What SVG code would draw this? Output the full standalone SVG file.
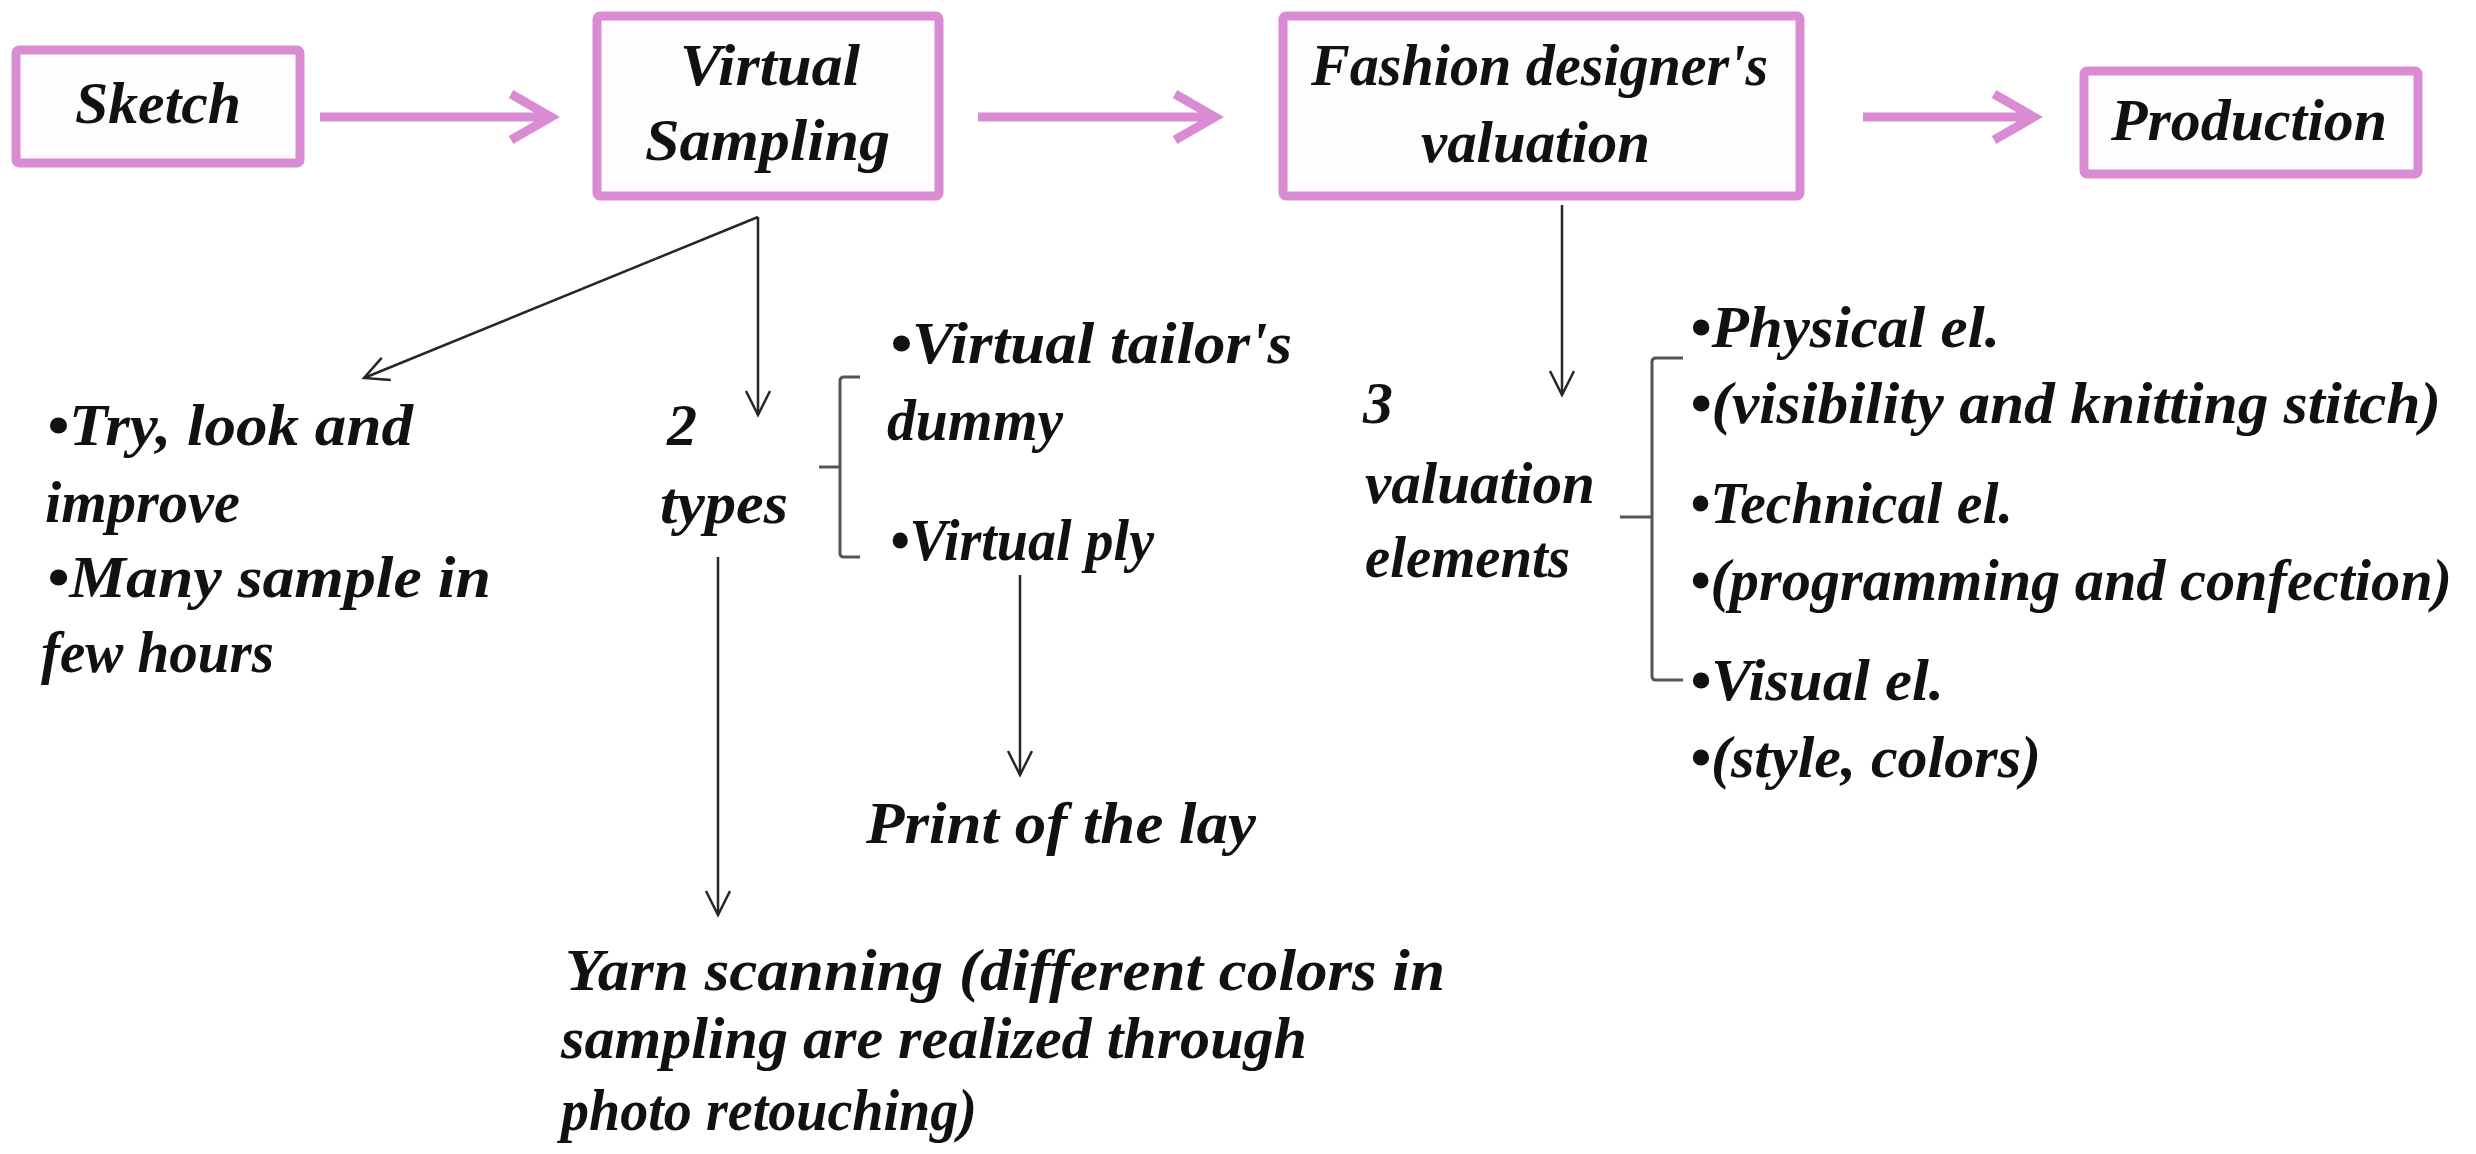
<svg xmlns="http://www.w3.org/2000/svg" width="2476" height="1154" viewBox="0 0 2476 1154">
<style>
.box{fill:#fffcff;stroke:#d98cd4;stroke-width:9}
.t{font-family:"Liberation Serif","DejaVu Serif",serif;font-style:italic;font-weight:bold;font-size:60px;fill:#111}
.pk{stroke:#d98cd4;stroke-width:9;fill:none}
.ln{stroke:#262626;stroke-width:2.5;fill:none}
.br{stroke:#555;stroke-width:3;fill:none}
</style>
<defs>
<marker id="v" markerWidth="30" markerHeight="30" refX="25" refY="13" orient="auto" markerUnits="userSpaceOnUse">
<path d="M1,1 L25,13 L1,25" fill="none" stroke="#262626" stroke-width="2.5"/>
</marker>
</defs>
<rect width="2476" height="1154" fill="#ffffff"/>
<g id="connectors">
<g id="pink-arrows">
<path class="pk" d="M320,117 H549 M511,94 L551,117 L511,140"/>
<path class="pk" d="M978,117 H1213 M1175,94 L1215,117 L1175,140"/>
<path class="pk" d="M1863,117 H2032 M1994,94 L2034,117 L1994,140"/>
</g>
<line class="ln" x1="758" y1="217" x2="364" y2="378" marker-end="url(#v)"/>
<line class="ln" x1="758" y1="217" x2="758" y2="415" marker-end="url(#v)"/>
<line class="ln" x1="718" y1="557" x2="718" y2="915" marker-end="url(#v)"/>
<line class="ln" x1="1020" y1="575" x2="1020" y2="775" marker-end="url(#v)"/>
<line class="ln" x1="1562" y1="205" x2="1562" y2="395" marker-end="url(#v)"/>
<path class="br" d="M860,377 H844 Q840,377 840,381 V553 Q840,557 844,557 H860 M840,467 H819"/>
<path class="br" d="M1683,358 H1656 Q1652,358 1652,362 V676 Q1652,680 1656,680 H1683 M1652,517 H1620"/>
</g>
<g id="sketch">
<rect class="box" x="16" y="50" width="284" height="113" rx="3"/>
<text class="t" x="75" y="123" textLength="166" lengthAdjust="spacingAndGlyphs">Sketch</text>
</g>
<g id="virtual-sampling">
<rect class="box" x="597" y="16" width="342" height="180" rx="3"/>
<text class="t" x="680" y="85" textLength="180" lengthAdjust="spacingAndGlyphs">Virtual</text>
<text class="t" x="645" y="160" textLength="245" lengthAdjust="spacingAndGlyphs">Sampling</text>
</g>
<g id="fashion-valuation">
<rect class="box" x="1283" y="16" width="517" height="180" rx="3"/>
<text class="t" x="1311" y="85" textLength="457" lengthAdjust="spacingAndGlyphs">Fashion designer's</text>
<text class="t" x="1421" y="162" textLength="229" lengthAdjust="spacingAndGlyphs">valuation</text>
</g>
<g id="production">
<rect class="box" x="2084" y="71" width="334" height="103" rx="3"/>
<text class="t" x="2111" y="140" textLength="276" lengthAdjust="spacingAndGlyphs">Production</text>
</g>
<g id="try-look">
<text class="t" x="47" y="445" textLength="366" lengthAdjust="spacingAndGlyphs">•Try, look and</text>
<text class="t" x="45" y="522" textLength="195" lengthAdjust="spacingAndGlyphs">improve</text>
<text class="t" x="47" y="597" textLength="444" lengthAdjust="spacingAndGlyphs">•Many sample in</text>
<text class="t" x="41" y="672" textLength="233" lengthAdjust="spacingAndGlyphs">few hours</text>
</g>
<g id="two-types">
<text class="t" x="667" y="445">2</text>
<text class="t" x="660" y="523" textLength="128" lengthAdjust="spacingAndGlyphs">types</text>
</g>
<g id="virtual-items">
<text class="t" x="890" y="363" textLength="402" lengthAdjust="spacingAndGlyphs">•Virtual tailor's</text>
<text class="t" x="887" y="440" textLength="176" lengthAdjust="spacingAndGlyphs">dummy</text>
<text class="t" x="890" y="560" textLength="264" lengthAdjust="spacingAndGlyphs">•Virtual ply</text>
</g>
<g id="print-lay">
<text class="t" x="866" y="843" textLength="390" lengthAdjust="spacingAndGlyphs">Print of the lay</text>
</g>
<g id="yarn-scanning">
<text class="t" x="565" y="990" textLength="880" lengthAdjust="spacingAndGlyphs">Yarn scanning (different colors in</text>
<text class="t" x="561" y="1058" textLength="746" lengthAdjust="spacingAndGlyphs">sampling are realized through</text>
<text class="t" x="561" y="1130" textLength="416" lengthAdjust="spacingAndGlyphs">photo retouching)</text>
</g>
<g id="three-elements">
<text class="t" x="1363" y="423">3</text>
<text class="t" x="1365" y="503" textLength="230" lengthAdjust="spacingAndGlyphs">valuation</text>
<text class="t" x="1365" y="577" textLength="205" lengthAdjust="spacingAndGlyphs">elements</text>
</g>
<g id="element-list">
<text class="t" x="1690" y="347" textLength="310" lengthAdjust="spacingAndGlyphs">•Physical el.</text>
<text class="t" x="1690" y="423" textLength="751" lengthAdjust="spacingAndGlyphs">•(visibility and knitting stitch)</text>
<text class="t" x="1690" y="523" textLength="323" lengthAdjust="spacingAndGlyphs">•Technical el.</text>
<text class="t" x="1690" y="600" textLength="762" lengthAdjust="spacingAndGlyphs">•(programming and confection)</text>
<text class="t" x="1690" y="700" textLength="254" lengthAdjust="spacingAndGlyphs">•Visual el.</text>
<text class="t" x="1690" y="777" textLength="351" lengthAdjust="spacingAndGlyphs">•(style, colors)</text>
</g>
</svg>
